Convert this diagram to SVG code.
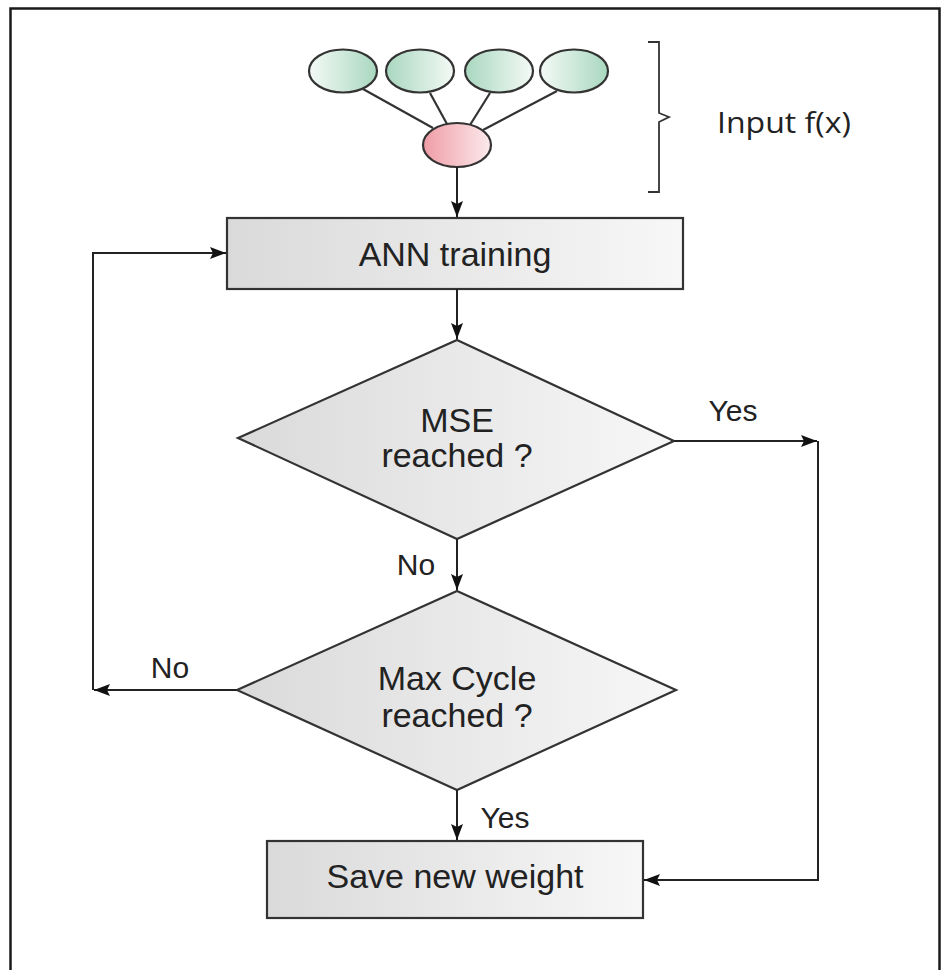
<svg xmlns="http://www.w3.org/2000/svg" width="941" height="970" viewBox="0 0 941 970">
<style>
.t{font-family:"Liberation Sans",Arial,sans-serif;fill:#222;text-anchor:middle}
.main{font-size:34px}
.lbl{font-size:30px}
.edge{fill:none;stroke:#222;stroke-width:2}
.shape{stroke:#333;stroke-width:2.2}
.ell{stroke:#333;stroke-width:2.2}
</style>
<defs>
<marker id="ah" markerUnits="userSpaceOnUse" markerWidth="17" markerHeight="13" refX="16" refY="6" orient="auto">
<path d="M0,0 L16,6 L0,12 L3,6 z" fill="#111"/>
</marker>
<linearGradient id="gray" x1="0" y1="0" x2="1" y2="0">
<stop offset="0" stop-color="#dadada"/>
<stop offset="1" stop-color="#f7f7f7"/>
</linearGradient>
<linearGradient id="greenR" x1="0" y1="0" x2="1" y2="0">
<stop offset="0" stop-color="#f4faf6"/>
<stop offset="1" stop-color="#a9d7bf"/>
</linearGradient>
<linearGradient id="greenL" x1="0" y1="0" x2="1" y2="0">
<stop offset="0" stop-color="#a9d7bf"/>
<stop offset="1" stop-color="#f4faf6"/>
</linearGradient>
<linearGradient id="pink" x1="0" y1="0" x2="1" y2="0">
<stop offset="0" stop-color="#f09ca6"/>
<stop offset="1" stop-color="#fbeaec"/>
</linearGradient>
</defs>
<rect width="941" height="970" fill="#fff"/>
<path d="M10.5,975 V8.5 H939.5 V975" fill="none" stroke="#1a1a1a" stroke-width="2.5"/>

<g id="input-network">
<line class="ell" x1="363" y1="89" x2="433" y2="128"/>
<line class="ell" x1="430" y1="93" x2="447" y2="124"/>
<line class="ell" x1="490" y1="93" x2="470" y2="125"/>
<line class="ell" x1="557" y1="91" x2="483" y2="130"/>
<ellipse class="ell" cx="343" cy="71" rx="34" ry="21.5" fill="url(#greenR)"/>
<ellipse class="ell" cx="420" cy="71" rx="34" ry="21.5" fill="url(#greenL)"/>
<ellipse class="ell" cx="499" cy="71" rx="34" ry="21.5" fill="url(#greenL)"/>
<ellipse class="ell" cx="574" cy="71" rx="34" ry="21.5" fill="url(#greenR)"/>
<ellipse class="ell" cx="457" cy="145" rx="34" ry="22" fill="url(#pink)"/>
</g>

<g id="input-label">
<path d="M648,42 H659 V113 L669,117 L659,122 V192 H648" fill="none" stroke="#333" stroke-width="1.8"/>
<text x="717" y="133" font-family="'Open Sans','Liberation Sans',sans-serif" font-size="29" fill="#222" textLength="134" lengthAdjust="spacingAndGlyphs">Input f(x)</text>
</g>

<g id="ann-training">
<rect class="shape" x="227" y="218" width="456" height="71" fill="url(#gray)"/>
<text class="t main" x="455" y="266">ANN training</text>
</g>

<g id="mse-decision">
<polygon class="shape" points="457,340 674,441 457,539 238,438" fill="url(#gray)"/>
<text class="t main" x="457" y="432">MSE</text>
<text class="t main" x="457" y="467">reached ?</text>
</g>

<g id="maxcycle-decision">
<polygon class="shape" points="457,591 676,690 457,790 237,690" fill="url(#gray)"/>
<text class="t main" x="457" y="690">Max Cycle</text>
<text class="t main" x="457" y="727">reached ?</text>
</g>

<g id="save-weight">
<rect class="shape" x="267" y="841" width="376" height="77" fill="url(#gray)"/>
<text class="t main" x="455" y="888">Save new weight</text>
</g>

<g id="connectors">
<path class="edge" d="M457,167 V217" marker-end="url(#ah)"/>
<path class="edge" d="M457,289 V339" marker-end="url(#ah)"/>
<path class="edge" d="M457,539 V590" marker-end="url(#ah)"/>
<path class="edge" d="M457,790 V840" marker-end="url(#ah)"/>
<path class="edge" d="M674,441 H817" marker-end="url(#ah)"/>
<path class="edge" d="M818,441 V880 H644" marker-end="url(#ah)"/>
<path class="edge" d="M237,690 H94" marker-end="url(#ah)"/>
<path class="edge" d="M93,690 V253 H226" marker-end="url(#ah)"/>
</g>

<g id="labels">
<text class="t lbl" x="733" y="421">Yes</text>
<text class="t lbl" x="416" y="575">No</text>
<text class="t lbl" x="170" y="678">No</text>
<text class="t lbl" x="505" y="828">Yes</text>
</g>
</svg>
